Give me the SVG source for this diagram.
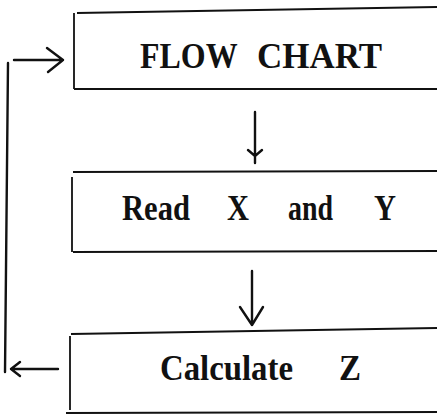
<svg xmlns="http://www.w3.org/2000/svg" width="438" height="416" viewBox="0 0 438 416">
<style>
.box{fill:none;stroke:#111;stroke-width:1.8}
.con{fill:none;stroke:#111;stroke-width:2.4;stroke-linecap:round;stroke-linejoin:round}
.t{font-family:"Liberation Serif","Times New Roman",serif;font-weight:bold;font-size:36px;fill:#111}
</style>
<rect width="438" height="416" fill="#fff"/>
<g id="node-flowchart">
<path class="box" d="M437,7 L77,13 M74,13 V89 M74,89 L437,89"/>
<text class="t" y="68"><tspan x="140" textLength="97" lengthAdjust="spacingAndGlyphs">FLOW</tspan> <tspan x="257" textLength="125" lengthAdjust="spacingAndGlyphs">CHART</tspan></text>
</g>
<g id="node-read">
<path class="box" d="M437,171 L73,172 M72,177 V252 M73,252 L437,251"/>
<text class="t" x="122" y="220" textLength="68" lengthAdjust="spacingAndGlyphs">Read</text>
<text class="t" x="227" y="220" textLength="22" lengthAdjust="spacingAndGlyphs">X</text>
<text class="t" x="288" y="220" textLength="45" lengthAdjust="spacingAndGlyphs">and</text>
<text class="t" x="374" y="220" textLength="22" lengthAdjust="spacingAndGlyphs">Y</text>
</g>
<g id="node-calc">
<path class="box" d="M437,328 L71,334 M70,336 V410 M66,413 L437,412"/>
<text class="t" x="160" y="380" textLength="133" lengthAdjust="spacingAndGlyphs">Calculate</text>
<text class="t" x="339" y="380" textLength="22" lengthAdjust="spacingAndGlyphs">Z</text>
</g>
<g id="connectors">
<path class="con" d="M255,112 V163 M248,150 L255,156 L262,150"/>
<path class="con" d="M252,271 V325 M240,307 L252,325 L263,307"/>
<path class="con" d="M58,369 H11 M20,362 L11,369 L20,376"/>
<path class="con" d="M5,372 L8,63"/>
<path class="con" d="M14,60 H63 M47,48 L63,60 L48,72"/>
</g>
</svg>
